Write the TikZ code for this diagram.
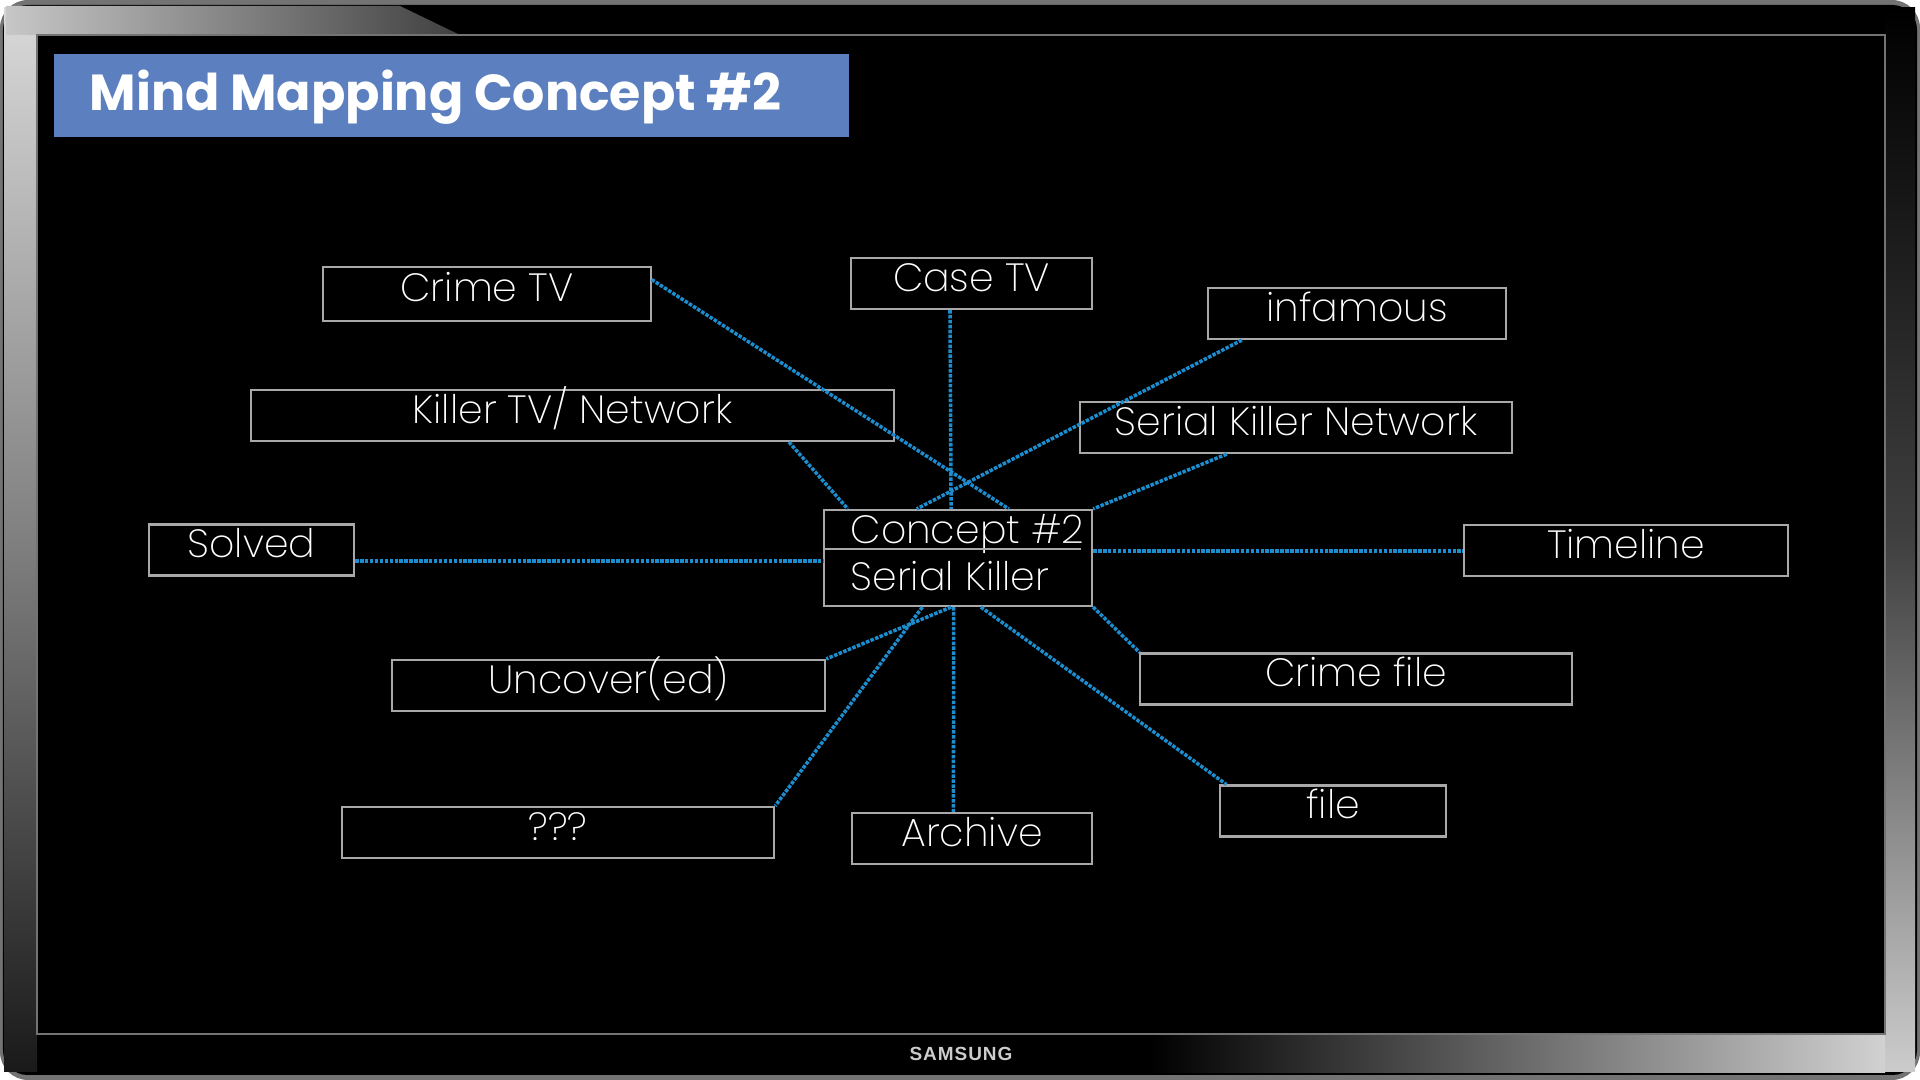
\documentclass[tikz,border=0pt]{standalone}
\usepackage{fontspec}
\usetikzlibrary{calc}
\newfontfamily\lightfont{Poppins ExtraLight}
\newfontfamily\titlefont{Poppins}
\newfontfamily\logofont{Liberation Sans}[LetterSpace=5]
\definecolor{cBlue}{HTML}{5B7FBF}
\definecolor{cLink}{HTML}{1C8ED0}
\definecolor{cFrame}{HTML}{A8A8A8}

\begin{document}
\begin{tikzpicture}[x=0.01cm,y=-0.01cm,
   nb/.style={draw=cFrame,line width=0.6pt,text=white,inner sep=0pt,
              minimum height=0.51cm,text height=9.5pt,text depth=5pt,
              font=\lightfont\fontsize{11.2}{14}\selectfont},
   nt/.style={text=white,inner sep=0pt,anchor=base west,
              font=\lightfont\fontsize{11.2}{14}\selectfont},
   lk/.style={draw=cLink,line width=1pt,dash pattern=on 1pt off 0.4pt}]
  \useasboundingbox (0,0) rectangle (1920,1080);
  % tv bezel
  \fill[black!55,rounded corners=8pt] (0,0) rectangle (1920,1080);
  \fill[black,rounded corners=7pt] (3,5) rectangle (1917,1075);
  \shade[top color=black!15,bottom color=black!90,middle color=black!50]
     (4,8) rectangle (37,1072);
  \shade[top color=black,bottom color=black!20,middle color=black!75]
     (1885,8) rectangle (1915,1072);
  \shade[left color=black,right color=black!18] (1150,1034) rectangle (1885,1073);
  \shade[left color=black!22,right color=black!75] (6,6) -- (400,6) -- (460,35) -- (6,35) -- cycle;
  \fill[black] (37,35) rectangle (1885,1034);
  \draw[black!55,line width=0.8pt] (37,35) rectangle (1885,1034);
  \node[text=black!20,font=\logofont\bfseries\fontsize{5.4}{6}\selectfont] (logo) at (961,1054) {SAMSUNG};
  % title
  \fill[cBlue] (54,54) rectangle (849,137);
  \node[anchor=base west,inner sep=0pt,text=white,
        font=\titlefont\bfseries\fontsize{14.4}{16}\selectfont] (title) at (89,111) {Mind Mapping Concept \#2};
  % boxes
  \node[nb,minimum width=3.27cm,minimum height=0.54cm] (crimetv) at (487,294) {Crime TV};
  \node[nb,minimum width=2.4cm] (casetv) at (971.5,283.5) {Case TV};
  \node[nb,minimum width=2.98cm] (infamous) at (1357,313.5) {infamous};
  \node[nb,minimum width=6.43cm] (killertv) at (572.5,415.5) {Killer TV/ Network};
  \node[nb,minimum width=4.32cm] (sknet) at (1296,427.5) {Serial Killer Network};
  \node[nb,minimum width=2.05cm] (solved) at (251.5,550) {Solved};
  \node[nb,minimum width=3.24cm] (timeline) at (1626,550.5) {Timeline};
  \node[nb,minimum width=4.32cm] (crimefile) at (1356,679) {Crime file};
  \node[nb,minimum width=4.33cm] (uncover) at (608.5,685.5) {Uncover(ed)};
  \node[nb,minimum width=2.26cm] (file) at (1333,811) {file};
  \node[nb,minimum width=4.32cm] (unknown) at (558,832.5) {???};
  \node[nb,minimum width=2.4cm] (archive) at (972,838.5) {Archive};
  % centre
  \node[nb,minimum width=2.68cm,minimum height=0.96cm] (concept) at (958,558) {};
  \node[nt] (ctop) at (850,544) {Concept \#2};
  \node[nt] (cbot) at (850,591) {Serial Killer};
  \draw[cFrame,line width=0.6pt] (concept.west) ++(0,-9) -- ++(258,0);
  % links
  \draw[lk] (crimetv.5) -- (concept.44);
  \draw[lk] (casetv.231) -- (concept.98);
  \draw[lk] (infamous.193) -- (concept.130);
  \draw[lk] (killertv.353) -- (concept.156);
  \draw[lk] (sknet.201) -- (concept.north east);
  \draw[lk] (solved.354) -- (solved.354 -| concept.west);
  \draw[lk] (concept.3) -- (concept.3 -| timeline.west);
  \draw[lk] (concept.south east) -- (crimefile.173);
  \draw[lk] (concept.295) -- (file.166);
  \draw[lk] (concept.265) -- (archive.125);
  \draw[lk] (concept.262) -- (uncover.north east);
  \draw[lk] (concept.234) -- (unknown.north east);
\end{tikzpicture}
\end{document}
